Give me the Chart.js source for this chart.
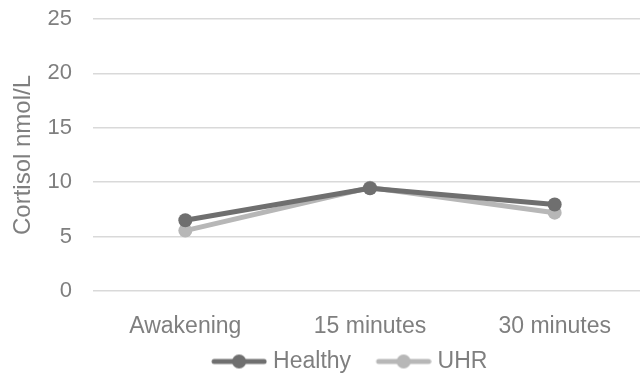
<!DOCTYPE html>
<html>
<head>
<meta charset="utf-8">
<script src="https://cdn.jsdelivr.net/npm/chart.js@4"></script>
<style>
  html, body { margin: 0; padding: 0; background: #fff; }
  #wrap { width: 640px; height: 377px; position: relative; }
</style>
</head>
<body>
<div id="wrap"><canvas id="cortisolChart"></canvas></div>
<script>
  const timepoints = ['Awakening', '15 minutes', '30 minutes'];
  const healthy = [6.5, 9.45, 7.95];
  const uhr = [5.55, 9.5, 7.2];
  const yTicks = [0, 5, 10, 15, 20, 25];

  const darkGray = '#6f6f6f';
  const lightGray = '#b7b7b7';
  const textGray = '#7f7f7f';

  // line+dot icon for the legend, with blank room on the left as item gap
  function legendIcon(color) {
    const c = document.createElement('canvas');
    c.width = 80; c.height = 16;
    const g = c.getContext('2d');
    g.strokeStyle = color;
    g.lineWidth = 5;
    g.lineCap = 'round';
    g.beginPath(); g.moveTo(27, 8); g.lineTo(77, 8); g.stroke();
    g.fillStyle = color;
    g.beginPath(); g.arc(52, 8, 7, 0, Math.PI * 2); g.fill();
    return c;
  }

  // the plot runs a bit past the right edge and the legend sits right of centre
  const nudgeLayout = {
    id: 'nudgeLayout',
    afterLayout(chart) {
      const xs = chart.scales.x;
      chart.chartArea.right += 7;
      chart.chartArea.width = chart.chartArea.right - chart.chartArea.left;
      xs.right += 7;
      xs.width = xs.right - xs.left;
      xs.configure();
      chart.legend.left += 20;
      chart.legend.right += 20;
      chart.legend.top += 6;
      chart.legend.bottom += 6;
    }
  };

  Chart.defaults.font.family = '"Liberation Sans", Arial, sans-serif';
  Chart.defaults.color = textGray;

  new Chart(document.getElementById('cortisolChart'), {
    type: 'line',
    data: {
      labels: timepoints,
      datasets: [
        {
          label: 'Healthy',
          data: healthy,
          borderColor: darkGray,
          backgroundColor: darkGray,
          borderWidth: 5,
          pointRadius: 7,
          pointBorderWidth: 0,
          tension: 0
        },
        {
          label: 'UHR',
          data: uhr,
          borderColor: lightGray,
          backgroundColor: lightGray,
          borderWidth: 5,
          pointRadius: 7,
          pointBorderWidth: 0,
          tension: 0
        }
      ]
    },
    plugins: [nudgeLayout],
    options: {
      responsive: true,
      maintainAspectRatio: false,
      animation: false,
      layout: { autoPadding: false, padding: { left: 0, right: 0, top: 19, bottom: 0 } },
      plugins: {
        tooltip: { enabled: false },
        legend: {
          position: 'bottom',
          labels: {
            usePointStyle: true,
            pointStyleWidth: 69,
            boxHeight: 16,
            font: { size: 23 },
            color: textGray,
            padding: 6,
            generateLabels(chart) {
              return chart.data.datasets.map((ds, i) => ({
                text: ds.label,
                pointStyle: legendIcon(ds.borderColor),
                fillStyle: ds.borderColor,
                strokeStyle: ds.borderColor,
                fontColor: textGray,
                lineWidth: 0,
                hidden: false,
                datasetIndex: i
              }));
            }
          }
        }
      },
      scales: {
        x: {
          offset: true,
          grid: { display: false },
          border: { display: false },
          ticks: { font: { size: 23 }, color: textGray, padding: 14, maxRotation: 0 },
          afterFit(scale) { scale.height = 47; }
        },
        y: {
          min: 0,
          max: 25,
          afterBuildTicks(axis) { axis.ticks = yTicks.map(v => ({ value: v })); },
          grid: { color: '#d9d9d9', lineWidth: 1.5, drawTicks: false },
          border: { display: false },
          ticks: { font: { size: 22 }, color: textGray, padding: 21 },
          title: {
            display: true,
            text: 'Cortisol nmol/L',
            font: { size: 24 },
            color: textGray,
            padding: { top: 9, bottom: 0 }
          },
          afterFit(scale) {
            scale.width = 93;
            scale.paddingTop = 0;
            scale.paddingBottom = 0;
          }
        }
      }
    }
  });
</script>
</body>
</html>
